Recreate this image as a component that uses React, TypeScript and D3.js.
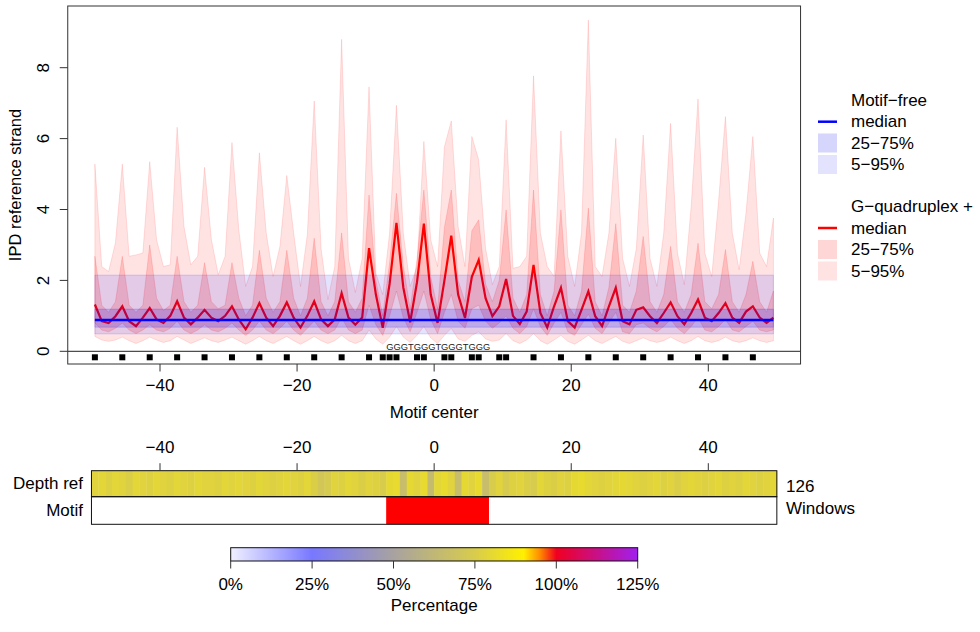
import React, { useRef, useEffect } from "react";
import * as d3 from "d3";

// positions of the window (half-integer grid)
const positions = d3.range(-49.5, 50, 1);

// G-quadruplex + (red) summary per position
const gqMedian = [
  1.32, 0.85, 0.8, 0.99, 1.27, 0.85, 0.71, 0.95, 1.22, 0.9,
  0.8, 1.0, 1.41, 0.95, 0.76, 0.95, 1.17, 0.95, 0.85, 1.0,
  1.27, 0.9, 0.62, 0.95, 1.36, 0.95, 0.71, 1.0, 1.38, 0.95,
  0.67, 1.0, 1.41, 0.9, 0.71, 0.9, 1.64, 0.95, 0.75, 0.95,
  2.91, 1.6, 0.66, 1.9, 3.62, 1.8, 0.82, 1.95, 3.6, 1.6,
  0.8, 2.0, 3.26, 1.6, 0.94, 2.1, 2.58, 1.5, 0.99, 1.27,
  2.04, 1.0, 0.77, 1.12, 2.44, 1.08, 0.67, 1.27, 1.79, 0.85,
  0.67, 1.17, 1.69, 0.99, 0.71, 1.27, 1.79, 0.85, 0.76, 1.17,
  1.24, 0.99, 0.8, 1.08, 1.38, 0.99, 0.76, 1.08, 1.46, 0.95,
  0.85, 1.08, 1.36, 0.95, 0.8, 1.12, 1.27, 0.95, 0.8, 0.95,
];
const gqQ25 = [
  0.8, 0.6, 0.55, 0.65, 0.8, 0.6, 0.5, 0.6, 0.75, 0.6,
  0.55, 0.65, 0.85, 0.6, 0.5, 0.6, 0.75, 0.6, 0.55, 0.65,
  0.8, 0.6, 0.45, 0.6, 0.85, 0.6, 0.5, 0.65, 0.85, 0.6,
  0.45, 0.65, 0.85, 0.6, 0.5, 0.6, 0.95, 0.6, 0.5, 0.6,
  1.3, 0.75, 0.45, 1.0, 1.7, 0.95, 0.55, 1.1, 1.7, 0.9,
  0.5, 1.1, 1.6, 0.85, 0.65, 1.2, 1.3, 0.85, 0.65, 0.8,
  1.0, 0.65, 0.5, 0.7, 1.2, 0.7, 0.45, 0.8, 1.1, 0.55,
  0.45, 0.75, 1.05, 0.65, 0.5, 0.8, 1.1, 0.55, 0.5, 0.75,
  0.8, 0.65, 0.55, 0.7, 0.9, 0.65, 0.5, 0.7, 0.95, 0.6,
  0.55, 0.7, 0.9, 0.6, 0.55, 0.7, 0.85, 0.6, 0.55, 0.6,
];
const gqQ75 = [
  2.68, 1.3, 1.1, 1.4, 2.68, 1.3, 1.1, 1.3, 3.0, 1.5,
  1.15, 1.3, 2.68, 1.4, 1.1, 1.3, 2.5, 1.4, 1.2, 1.3,
  2.5, 1.5, 1.0, 1.3, 2.85, 1.5, 1.1, 1.4, 2.85, 1.5,
  1.0, 1.5, 3.19, 1.4, 1.0, 1.4, 3.34, 1.4, 1.1, 1.5,
  4.41, 2.0, 1.0, 2.5, 4.46, 2.4, 1.2, 2.6, 4.55, 2.1,
  1.2, 3.5, 4.55, 2.0, 1.4, 3.4, 3.71, 1.9, 1.4, 2.0,
  3.99, 1.5, 1.1, 1.6, 4.55, 1.6, 1.0, 1.7, 3.99, 1.3,
  1.0, 1.7, 4.04, 1.4, 1.0, 1.8, 3.6, 1.3, 1.1, 1.7,
  3.24, 1.4, 1.1, 1.6, 2.96, 1.4, 1.1, 1.6, 3.05, 1.4,
  1.2, 1.6, 2.87, 1.4, 1.1, 1.6, 2.54, 1.4, 1.1, 1.7,
];
const gqQ05 = [
  0.42, 0.32, 0.28, 0.32, 0.4, 0.3, 0.22, 0.3, 0.4, 0.32,
  0.25, 0.3, 0.42, 0.32, 0.22, 0.3, 0.38, 0.3, 0.25, 0.32,
  0.4, 0.3, 0.2, 0.3, 0.42, 0.3, 0.22, 0.32, 0.42, 0.3,
  0.2, 0.3, 0.42, 0.3, 0.22, 0.3, 0.45, 0.3, 0.22, 0.3,
  0.6, 0.35, 0.2, 0.4, 0.7, 0.4, 0.25, 0.45, 0.7, 0.38,
  0.22, 0.45, 0.65, 0.35, 0.28, 0.45, 0.55, 0.35, 0.28, 0.32,
  0.5, 0.3, 0.22, 0.32, 0.5, 0.3, 0.2, 0.32, 0.45, 0.28,
  0.2, 0.32, 0.45, 0.3, 0.22, 0.32, 0.42, 0.28, 0.22, 0.3,
  0.38, 0.3, 0.25, 0.3, 0.4, 0.3, 0.22, 0.3, 0.42, 0.3,
  0.25, 0.3, 0.4, 0.3, 0.25, 0.3, 0.38, 0.3, 0.25, 0.3,
];
const gqQ95 = [
  5.28, 2.39, 2.25, 3.06, 5.28, 2.68, 2.72, 2.77, 5.35, 3.15,
  2.39, 2.44, 6.32, 3.52, 2.44, 2.68, 5.19, 3.15, 2.16, 2.68,
  5.89, 3.43, 1.83, 2.39, 5.6, 3.34, 2.11, 2.96, 4.96, 3.34,
  1.83, 3.3, 7.06, 2.9, 1.46, 2.39, 8.8, 2.62, 1.66, 2.62,
  7.46, 2.2, 1.6, 3.34, 6.94, 3.34, 1.83, 2.39, 5.92, 3.15,
  2.39, 5.77, 6.5, 3.52, 2.39, 6.06, 5.4, 2.9, 1.88, 2.39,
  6.53, 2.34, 2.39, 2.68, 7.77, 3.34, 2.39, 2.11, 6.22, 2.68,
  1.83, 3.34, 9.34, 2.39, 2.11, 3.34, 6.01, 2.62, 1.83, 2.9,
  6.1, 2.62, 1.83, 3.34, 6.43, 2.77, 1.88, 4.08, 7.12, 2.77,
  2.11, 4.24, 6.62, 3.34, 2.3, 3.9, 6.06, 2.77, 2.39, 3.76,
];

// motif-free (blue) summary, flat across the window
const freeQ05 = 0.49;
const freeQ25 = 0.68;
const freeMedian = 0.88;
const freeQ75 = 1.19;
const freeQ95 = 2.15;

// G positions marked under the plot
const gMarks = [
  -49.5, -45.5, -41.5, -37.5, -33.5, -29.5, -25.5, -21.5, -17.5, -13.5, -9.5,
  -7.5, -6.5, -5.5, -2.5, -1.5, 1.5, 2.5, 5.5, 6.5, 9.5, 10.5,
  14.5, 18.5, 22.5, 26.5, 30.5, 34.5, 38.5, 42.5, 46.5,
];
const motifSeq = "GGGTGGGTGGGTGGG";

// heatmap rows: one cell per position from -50 to 50
const depthPct = [
  78, 79, 77, 79, 78, 76, 79, 78, 77, 79,
  78, 77, 79, 78, 77, 79, 78, 78, 77, 79,
  78, 79, 78, 77, 79, 78, 77, 78, 79, 78,
  77, 79, 76, 72, 74, 78, 77, 79, 78, 76,
  78, 77, 75, 80, 81, 66, 80, 78, 81, 65,
  79, 81, 78, 66, 80, 78, 81, 66, 75, 78,
  74, 77, 78, 76, 75, 79, 77, 76, 78, 77,
  80, 81, 79, 78, 77, 78, 79, 80, 79, 78,
  77, 78, 79, 77, 78, 76, 78, 79, 78, 77,
  78, 79, 77, 78, 77, 79, 78, 77, 78, 79,
];
const motifStart = -7;
const motifEnd = 8;
const windowCount = 126;

const xTicks = [-40, -20, 0, 20, 40];
const yTicks = [0, 2, 4, 6, 8];
const pctTicks = [0, 25, 50, 75, 100, 125];
const pctStops = [0, 25, 50, 75, 90, 95, 100, 125];
const pctColors = ["#f0f0ff", "#7878ff", "#a8a2a0", "#d8cc4c", "#fff000", "#ff8a00", "#f00020", "#a020f0"];

const FONT = "'Liberation Sans', Arial, Helvetica, sans-serif";

const App = () => {
  const svgRef = useRef<SVGSVGElement>(null);

  useEffect(() => {
    const svg = d3.select(svgRef.current);
    svg.selectAll("*").remove();
    svg.attr("font-family", FONT);

    const x = d3.scaleLinear().domain([-40, 40]).range([160, 708.3]);
    const y = d3.scaleLinear().domain([0, 8]).range([351.3, 67.7]);
    const box = { left: x(-53.46), right: x(53.46), top: 6, bottom: 364 };

    const rows = positions.map((p, i) => ({
      pos: p,
      med: gqMedian[i],
      q05: gqQ05[i],
      q25: gqQ25[i],
      q75: gqQ75[i],
      q95: gqQ95[i],
    }));

    const band = (lo, hi) =>
      d3
        .area<any>()
        .x((d) => x(d.pos))
        .y0((d) => y(lo(d)))
        .y1((d) => y(hi(d)));

    const plot = svg.append("g");

    // red bands
    plot
      .append("path")
      .datum(rows)
      .attr("d", band((d) => d.q05, (d) => d.q95))
      .attr("fill", "rgba(255,0,0,0.11)")
      .attr("stroke", "rgba(255,0,0,0.12)");
    plot
      .append("path")
      .datum(rows)
      .attr("d", band((d) => d.q25, (d) => d.q75))
      .attr("fill", "rgba(255,0,0,0.16)")
      .attr("stroke", "rgba(255,0,0,0.14)");
    plot
      .append("path")
      .datum(rows)
      .attr("d", d3.line<any>().x((d) => x(d.pos)).y((d) => y(d.med)))
      .attr("fill", "none")
      .attr("stroke", "#ff0000")
      .attr("stroke-width", 2.2);

    // blue bands
    plot
      .append("path")
      .datum(rows)
      .attr("d", band(() => freeQ05, () => freeQ95))
      .attr("fill", "rgba(0,0,255,0.11)")
      .attr("stroke", "rgba(0,0,255,0.12)");
    plot
      .append("path")
      .datum(rows)
      .attr("d", band(() => freeQ25, () => freeQ75))
      .attr("fill", "rgba(0,0,255,0.16)")
      .attr("stroke", "rgba(0,0,255,0.14)");
    plot
      .append("path")
      .datum(rows)
      .attr("d", d3.line<any>().x((d) => x(d.pos)).y(() => y(freeMedian)))
      .attr("fill", "none")
      .attr("stroke", "#0000ff")
      .attr("stroke-width", 2.5);

    // motif track
    plot
      .append("line")
      .attr("x1", box.left)
      .attr("x2", box.right)
      .attr("y1", y(0))
      .attr("y2", y(0))
      .attr("stroke", "#222");
    plot
      .selectAll("rect.g")
      .data(gMarks)
      .join("rect")
      .attr("x", (d) => x(d) - 3)
      .attr("y", 354.3)
      .attr("width", 6)
      .attr("height", 6)
      .attr("fill", "#000");
    plot
      .append("text")
      .attr("x", x(0.6))
      .attr("y", 346.5)
      .attr("text-anchor", "middle")
      .attr("dominant-baseline", "central")
      .attr("font-size", 9.3)
      .attr("fill", "#222")
      .text(motifSeq);

    // frame
    svg
      .append("rect")
      .attr("x", box.left)
      .attr("y", box.top)
      .attr("width", box.right - box.left)
      .attr("height", box.bottom - box.top)
      .attr("fill", "none")
      .attr("stroke", "#333");

    // y axis
    const yAxis = svg.append("g");
    yAxis
      .selectAll("line")
      .data(yTicks)
      .join("line")
      .attr("x1", box.left - 8)
      .attr("x2", box.left)
      .attr("y1", (d) => y(d))
      .attr("y2", (d) => y(d))
      .attr("stroke", "#333");
    yAxis
      .selectAll("text")
      .data(yTicks)
      .join("text")
      .attr("transform", (d) => `translate(43,${y(d)}) rotate(-90)`)
      .attr("text-anchor", "middle")
      .attr("dominant-baseline", "central")
      .attr("font-size", 17)
      .text((d) => d3.format("d")(d));
    svg
      .append("text")
      .attr("transform", `translate(15,${(box.top + box.bottom) / 2}) rotate(-90)`)
      .attr("text-anchor", "middle")
      .attr("dominant-baseline", "central")
      .attr("font-size", 16.5)
      .text("IPD reference strand");

    // x axis (main)
    const xAxis = svg.append("g");
    xAxis
      .selectAll("line")
      .data(xTicks)
      .join("line")
      .attr("x1", (d) => x(d))
      .attr("x2", (d) => x(d))
      .attr("y1", box.bottom)
      .attr("y2", box.bottom + 7.5)
      .attr("stroke", "#333");
    xAxis
      .selectAll("text")
      .data(xTicks)
      .join("text")
      .attr("x", (d) => x(d))
      .attr("y", 385)
      .attr("text-anchor", "middle")
      .attr("dominant-baseline", "central")
      .attr("font-size", 17)
      .text((d) => d3.format("d")(d));
    svg
      .append("text")
      .attr("x", x(0))
      .attr("y", 412)
      .attr("text-anchor", "middle")
      .attr("dominant-baseline", "central")
      .attr("font-size", 17)
      .text("Motif center");

    // legend
    const lg = svg.append("g").attr("font-size", 17);
    const legendRows = [
      { y: 100.7, label: "Motif\u2212free", kind: "none", color: "" },
      { y: 121.7, label: "median", kind: "line", color: "#0000ff" },
      { y: 143, label: "25\u221275%", kind: "box", color: "#d6d6fc" },
      { y: 164.5, label: "5\u221295%", kind: "box", color: "#e3e3fd" },
      { y: 206.7, label: "G\u2212quadruplex +", kind: "none", color: "" },
      { y: 228, label: "median", kind: "line", color: "#ff0000" },
      { y: 249.5, label: "25\u221275%", kind: "box", color: "#ffd6d6" },
      { y: 271, label: "5\u221295%", kind: "box", color: "#ffe3e3" },
    ];
    legendRows.forEach((r) => {
      if (r.kind === "line") {
        lg.append("line")
          .attr("x1", 818)
          .attr("x2", 837)
          .attr("y1", r.y)
          .attr("y2", r.y)
          .attr("stroke", r.color)
          .attr("stroke-width", 2.5);
      } else if (r.kind === "box") {
        lg.append("rect")
          .attr("x", 818)
          .attr("y", r.y - 9.5)
          .attr("width", 19)
          .attr("height", 19)
          .attr("fill", r.color);
      }
      lg.append("text")
        .attr("x", 851)
        .attr("y", r.y)
        .attr("dominant-baseline", "central")
        .text(r.label);
    });

    // colour scale shared by heatmap and colour bar
    const color = d3
      .scaleLinear<string>()
      .domain(pctStops)
      .range(pctColors)
      .interpolate(d3.interpolateRgb)
      .clamp(true);

    // heatmap
    const hm = { depthTop: 470.7, mid: 496.7, bottom: 524.3 };
    const cells = d3.range(-50, 50, 1);
    const heat = svg.append("g");
    heat
      .selectAll("rect.depth")
      .data(cells)
      .join("rect")
      .attr("x", (d) => x(d))
      .attr("y", hm.depthTop)
      .attr("width", x(1) - x(0) + 0.4)
      .attr("height", hm.mid - hm.depthTop)
      .attr("fill", (d, i) => color(depthPct[i]));
    heat
      .append("rect")
      .attr("x", x(motifStart))
      .attr("y", hm.mid)
      .attr("width", x(motifEnd) - x(motifStart))
      .attr("height", hm.bottom - hm.mid)
      .attr("fill", "#ff0000");
    heat
      .append("rect")
      .attr("x", x(-50))
      .attr("y", hm.depthTop)
      .attr("width", x(50) - x(-50))
      .attr("height", hm.mid - hm.depthTop)
      .attr("fill", "none")
      .attr("stroke", "#111");
    heat
      .append("rect")
      .attr("x", x(-50))
      .attr("y", hm.mid)
      .attr("width", x(50) - x(-50))
      .attr("height", hm.bottom - hm.mid)
      .attr("fill", "none")
      .attr("stroke", "#111");
    heat
      .selectAll("line.tick")
      .data(xTicks)
      .join("line")
      .attr("x1", (d) => x(d))
      .attr("x2", (d) => x(d))
      .attr("y1", hm.depthTop - 7.5)
      .attr("y2", hm.depthTop)
      .attr("stroke", "#333");
    heat
      .selectAll("text.tick")
      .data(xTicks)
      .join("text")
      .attr("x", (d) => x(d))
      .attr("y", 447)
      .attr("text-anchor", "middle")
      .attr("dominant-baseline", "central")
      .attr("font-size", 17)
      .text((d) => d3.format("d")(d));
    const rowLabels = [
      { y: 483.5, text: "Depth ref", side: "left" },
      { y: 510.5, text: "Motif", side: "left" },
      { y: 486.5, text: String(windowCount), side: "right" },
      { y: 508.5, text: "Windows", side: "right" },
    ];
    rowLabels.forEach((r) => {
      heat
        .append("text")
        .attr("x", r.side === "left" ? 83 : 786)
        .attr("y", r.y)
        .attr("text-anchor", r.side === "left" ? "end" : "start")
        .attr("dominant-baseline", "central")
        .attr("font-size", 17)
        .text(r.text);
    });

    // colour bar
    const px = d3.scaleLinear().domain([0, 125]).range([230.7, 637.7]);
    const grad = svg
      .append("defs")
      .append("linearGradient")
      .attr("id", "pctGrad")
      .attr("x1", "0%")
      .attr("x2", "100%");
    d3.range(0, 125.01, 2.5).forEach((p) => {
      grad
        .append("stop")
        .attr("offset", `${(p / 125) * 100}%`)
        .attr("stop-color", color(p));
    });
    const bar = { top: 547.7, bottom: 561 };
    svg
      .append("rect")
      .attr("x", px(0))
      .attr("y", bar.top)
      .attr("width", px(125) - px(0))
      .attr("height", bar.bottom - bar.top)
      .attr("fill", "url(#pctGrad)")
      .attr("stroke", "#111");
    svg
      .selectAll("line.pct")
      .data(pctTicks)
      .join("line")
      .attr("x1", (d) => px(d))
      .attr("x2", (d) => px(d))
      .attr("y1", bar.bottom)
      .attr("y2", bar.bottom + 7.5)
      .attr("stroke", "#333");
    svg
      .selectAll("text.pct")
      .data(pctTicks)
      .join("text")
      .attr("x", (d) => px(d))
      .attr("y", 584)
      .attr("text-anchor", "middle")
      .attr("dominant-baseline", "central")
      .attr("font-size", 17)
      .text((d) => `${d}%`);
    svg
      .append("text")
      .attr("x", px(62.5))
      .attr("y", 605)
      .attr("text-anchor", "middle")
      .attr("dominant-baseline", "central")
      .attr("font-size", 17)
      .text("Percentage");

    return () => {
      svg.selectAll("*").remove();
    };
  }, []);

  return (
    <svg
      ref={svgRef}
      width={980}
      height={632}
      style={{ position: "absolute", left: 0, top: 0, background: "#fff" }}
    />
  );
};

export default App;
